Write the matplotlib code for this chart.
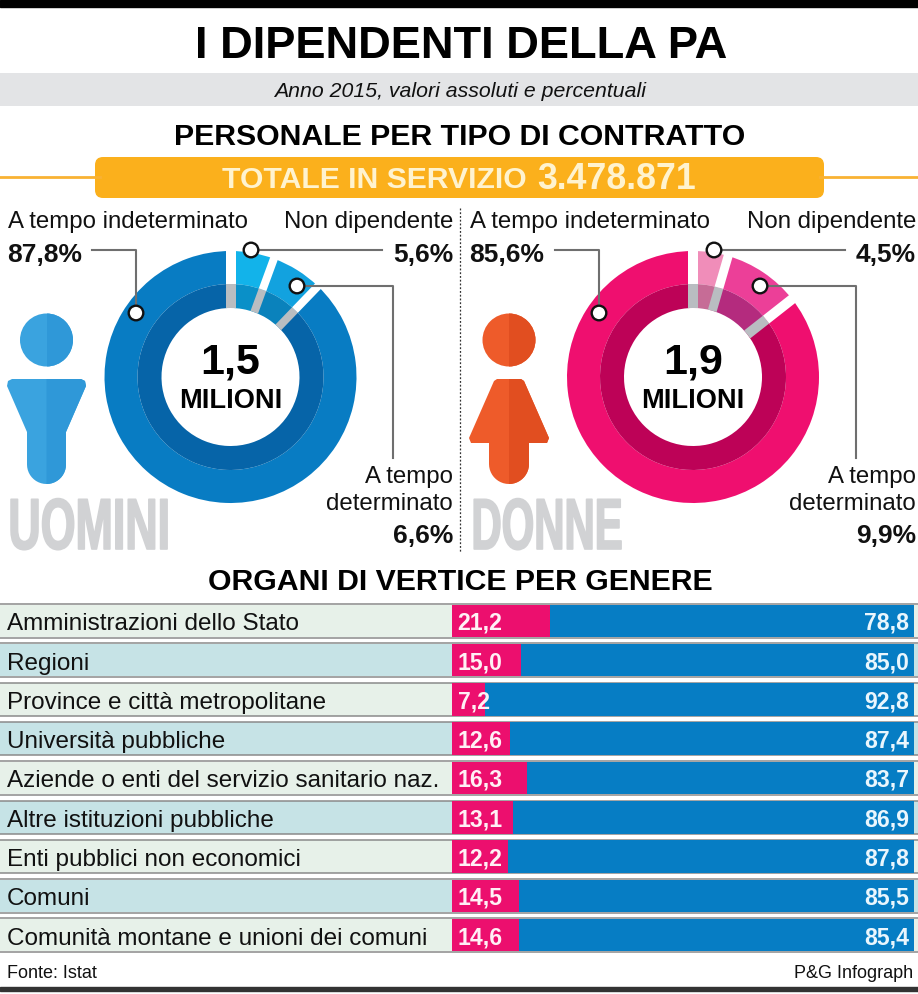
import numpy as np
import matplotlib
matplotlib.use("Agg")
import matplotlib.pyplot as plt
from matplotlib.patches import Circle, FancyBboxPatch, Polygon, Rectangle
from matplotlib.patheffects import AbstractPathEffect
from matplotlib.transforms import Affine2D

plt.rcParams['font.family'] = ['Liberation Sans', 'DejaVu Sans']

W, H = 918, 994

# Dati
contract_names = ['Non dipendente', 'A tempo determinato', 'A tempo indeterminato']
men_values = [5.6, 6.6, 87.8]
women_values = [4.5, 9.9, 85.6]
men_total = '1,5'
women_total = '1,9'
total_label = 'TOTALE IN SERVIZIO'
total_value = '3.478.871'

organi = ['Amministrazioni dello Stato', 'Regioni', 'Province e città metropolitane',
          'Università pubbliche', 'Aziende o enti del servizio sanitario naz.',
          'Altre istituzioni pubbliche', 'Enti pubblici non economici', 'Comuni',
          'Comunità montane e unioni dei comuni']
organi_donne = [21.2, 15.0, 7.2, 12.6, 16.3, 13.1, 12.2, 14.5, 14.6]
organi_uomini = [78.8, 85.0, 92.8, 87.4, 83.7, 86.9, 87.8, 85.5, 85.4]

# Colori
men_outer = ['#12B3EA', '#12A2DF', '#087CC3']
men_inner = ['#0A90C8', '#0A82BC', '#0664A8']
women_outer = ['#F08DB9', '#EC3F98', '#EF0F6F']
women_inner = ['#C66C96', '#B42B7E', '#BD0257']
GAP_GREY = '#B9BDC1'
LEADER = '#6F6F6F'
PINK = '#EC0F6E'
BLUE = '#067DC4'


class Squeeze(AbstractPathEffect):
    # stringe il testo in orizzontale, manca un font condensed
    def __init__(self, sx, x0, stroke, color):
        super().__init__()
        self.sx = sx
        self.x0 = x0
        self.stroke = stroke
        self.color = color

    def draw_path(self, renderer, gc, tpath, affine, rgbFace=None):
        t = affine + Affine2D().translate(-self.x0, 0).scale(self.sx, 1).translate(self.x0, 0)
        gc.set_linewidth(self.stroke)
        gc.set_foreground(self.color)
        renderer.draw_path(gc, tpath, t, rgbFace)


fig = plt.figure(figsize=(W / 100, H / 100), dpi=100, facecolor='white')


def px_axes(left, top, right, bottom, **kw):
    return fig.add_axes([left / W, 1 - bottom / H, (right - left) / W, (bottom - top) / H], **kw)


def donut(cx, cy, values, outer_cols, inner_cols, gaps):
    a = px_axes(cx - 140, cy - 140, cx + 140, cy + 140, zorder=1)
    a.pie(values, radius=126, startangle=90, counterclock=False, colors=outer_cols,
          wedgeprops=dict(width=33, linewidth=0))
    a.pie(values, radius=93, startangle=90, counterclock=False, colors=inner_cols,
          wedgeprops=dict(width=24, linewidth=0))
    a.set_xlim(-140, 140)
    a.set_ylim(-140, 140)
    a.set_aspect('equal')
    # i tagli tra le fette hanno larghezza costante
    bounds = np.concatenate([[0], np.cumsum(values)[:-1]]) * 3.6
    for ang, g in zip(bounds, gaps):
        dx, dy = np.sin(np.radians(ang)), np.cos(np.radians(ang))
        a.plot([69 * dx, 93 * dx], [69 * dy, 93 * dy], color=GAP_GREY, lw=g * 0.72, solid_capstyle='butt')
        a.plot([93 * dx, 128 * dx], [93 * dy, 128 * dy], color='white', lw=g * 0.72, solid_capstyle='butt')


donut(230.5, 377, men_values, men_outer, men_inner, [10, 8, 8])
donut(693, 377, women_values, women_outer, women_inner, [10, 9, 10])

# Overlay in pixel
ax = px_axes(0, 0, W, H, zorder=2)
ax.set_xlim(0, W)
ax.set_ylim(H, 0)
ax.axis('off')


def txt(x, y, s, size, weight='normal', ha='left', color='#111111', **kw):
    return ax.text(x, y, s, fontsize=size, fontweight=weight, ha=ha, va='baseline', color=color, **kw)


ax.add_patch(Rectangle((0, 0), W, 7, color='black'))
ax.add_patch(Rectangle((0, 987), W, 3.5, color='#333333'))
ax.add_patch(Rectangle((0, 73), W, 33, color='#E3E4E6', lw=0))

txt(W / 2 + 2, 58, 'I DIPENDENTI DELLA PA', 32.6, 'bold', 'center', 'black')
txt(W / 2 + 1, 97, 'Anno 2015, valori assoluti e percentuali', 15.3, ha='center', style='italic')
txt(W / 2 + 1, 145, 'PERSONALE PER TIPO DI CONTRATTO', 21.8, 'bold', 'center', 'black')

ax.plot([0, 100], [177, 177], color='#F9B233', lw=2)
ax.plot([820, W], [177, 177], color='#F9B233', lw=2)
ax.add_patch(FancyBboxPatch((101, 163), 717, 29, boxstyle='round,pad=6,rounding_size=8',
                            fc='#FBB01C', ec='none'))
txt(222, 188, total_label, 21.7, 'bold', color='#FFF3CF')
txt(537, 189, total_value, 25.7, 'bold', color='#FFF3CF')

ax.plot([460, 460], [208, 552], color='#333333', lw=0.9, ls=(0, (1.5, 1.5)))


def pct(v):
    return f'{v:.1f}%'.replace('.', ',')


def labels(left, right, vals, cols_x):
    txt(left, 228, contract_names[2], 17.3)
    txt(left - 1, 262, pct(vals[2]), 19, 'bold')
    txt(right, 228, contract_names[0], 17.3, ha='right')
    txt(right, 262, pct(vals[0]), 19, 'bold', 'right')
    txt(right, 483, 'A tempo', 17.3, ha='right')
    txt(right, 510, 'determinato', 17.3, ha='right')
    txt(right, 543, pct(vals[1]), 19, 'bold', 'right')
    x_start, x_turn, x_c, x_end, x_c2, x_turn2 = cols_x
    ax.plot([x_start, x_turn, x_turn], [250, 250, 313], color=LEADER, lw=1.5)
    ax.plot([x_c, x_end], [250, 250], color=LEADER, lw=1.5)
    ax.plot([x_c2, x_turn2, x_turn2], [285.5, 285.5, 458], color=LEADER, lw=1.5)
    for px, py in [(x_turn, 313), (x_c, 250), (x_c2, 286)]:
        ax.add_patch(Circle((px, py), 7.3, fc='white', ec='#111111', lw=1.7, zorder=5))


labels(8, 453, men_values, (92, 136, 251, 382, 297, 393))
labels(470, 916, women_values, (555, 599, 714, 845, 760, 856))

# Centro delle ciambelle
for cx, val in [(230.5, men_total), (693, women_total)]:
    txt(cx, 373, val, 31, 'bold', 'center', 'black')
    txt(cx, 408, 'MILIONI', 19.6, 'bold', 'center', 'black')


def icon(cx, side_pts, light, dark, r_bottom):
    # testa
    ax.add_patch(Circle((cx, 340), 26.5, color=light, lw=0))
    ax.add_patch(Rectangle((cx, 313), 27, 54, color=dark, lw=0,
                           clip_path=Circle((cx, 340), 26.5, transform=ax.transData)))
    # corpo: fondo arrotondato
    th = np.radians(np.linspace(180, 90, 12))
    arc = [(cx + r_bottom * np.cos(a), 484 - r_bottom + r_bottom * np.sin(a)) for a in th]
    left = side_pts + arc
    right = [(2 * cx - x, y) for x, y in left]
    ax.add_patch(Polygon(left + right[::-1], color=light, lw=0))
    ax.add_patch(Polygon([(cx, 379)] + right + [(cx, 484)], color=dark, lw=0))


icon(46.5, [(12, 379), (8, 381), (7, 386), (27, 432)], '#3AA3DF', '#2F98D8', 19.5)
icon(509, [(497, 379), (494, 381), (469, 438), (471, 443), (489, 443)], '#EE5B2A', '#E14E20', 20)

t = txt(8, 549, 'UOMINI', 52, 'bold', color='#D1D2D4')
t.set_path_effects([Squeeze(0.62, 9, 1.2, '#D1D2D4')])
t = txt(471, 549, 'DONNE', 52, 'bold', color='#D1D2D4')
t.set_path_effects([Squeeze(0.58, 472, 1.2, '#D1D2D4')])

txt(W / 2 + 1, 590, 'ORGANI DI VERTICE PER GENERE', 21.8, 'bold', 'center', 'black')

# Tabella
row_top = 604.5
row_pitch = 39.3
row_h = 32.5
row_cols = ['#E7F1E9', '#C6E3E6']
for i, name in enumerate(organi):
    y0 = row_top + i * row_pitch
    ax.add_patch(Rectangle((0, y0), W, row_h, fc=row_cols[i % 2], ec='none'))
    ax.plot([0, W], [y0 - 0.5, y0 - 0.5], color='#8A8A8A', lw=1.1)
    ax.plot([0, W], [y0 + row_h + 0.5, y0 + row_h + 0.5], color='#8A8A8A', lw=1.1)
    txt(7, y0 + row_h / 2 + 9.5, name, 17.5)

bx = px_axes(452, row_top - row_pitch / 2 + row_h / 2, 914,
             row_top + 8.5 * row_pitch + row_h / 2, zorder=3)
bx.patch.set_alpha(0)
bx.axis('off')
ypos = np.arange(len(organi))
bh = row_h / row_pitch
bx.barh(ypos, organi_donne, height=bh, color=PINK)
bx.barh(ypos, organi_uomini, left=organi_donne, height=bh, color=BLUE)
bx.set_xlim(0, 100)
bx.set_ylim(len(organi) - 0.5, -0.5)
for i in ypos:
    bx.text(1.2, i, f'{organi_donne[i]:.1f}'.replace('.', ','), color='#FFF0F5', fontsize=16.6,
            fontweight='bold', va='center_baseline')
    bx.text(99, i, f'{organi_uomini[i]:.1f}'.replace('.', ','), color='#EAF6FD', fontsize=16.6,
            fontweight='bold', ha='right', va='center_baseline')

txt(7, 978, 'Fonte: Istat', 13)
txt(913, 978, 'P&G Infograph', 13, ha='right')

fig.savefig('out.png', dpi=100)
